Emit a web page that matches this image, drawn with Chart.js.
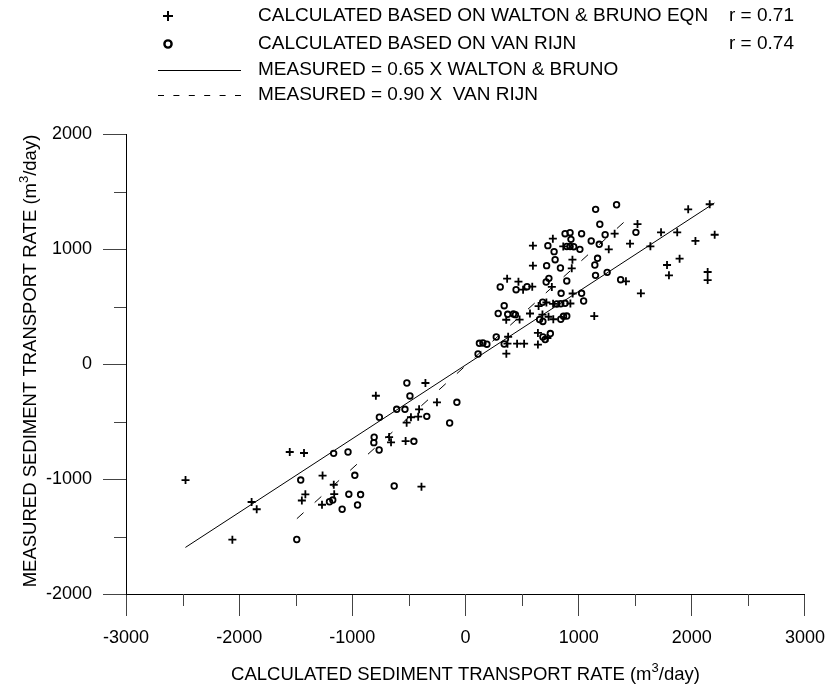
<!DOCTYPE html>
<html><head><meta charset="utf-8">
<script src="https://cdn.jsdelivr.net/npm/chart.js@4/dist/chart.umd.min.js"></script>
<style>html,body{margin:0;padding:0;background:#fff}#wrap{width:836px;height:687px}</style>
</head><body><div id="wrap"><canvas id="c" width="836" height="687"></canvas></div>
<script>
// ---- data ----
const xTickValues = [-3000, -2000, -1000, 0, 1000, 2000, 3000];
const yTickValues = [-2000, -1000, 0, 1000, 2000];
const xMinorTicks = [-2500, -1500, -500, 500, 1500, 2500];
const yMinorTicks = [-1500, -500, 500, 1500];

// Calculated based on Walton & Bruno eqn (x = calculated, y = measured)
const wbX = [2158,1968,1520,1318,1454,1728,1871,2202,2032,1634,1892,1781,1798,2140,2140,1550,
  772,596,864,1266,945,596,939,368,468,509,590,763,1418,947,715,646,774,927,570,680,734,360,478,776,1138,640,724,377,371,456,518,640,361,
  -354,-792,-252,-410,-482,-418,-520,-675,-658,-529,-389,-1553,-1427,-1263,-1164,-1415,-1446,-1160,-1268,-1890,-1845,-2060,-2474];
const wbY = [1389,1345,1217,1133,1046,1145,1145,1124,1070,1023,916,861,771,800,730,615,
  1090,1029,1022,997,907,855,832,742,716,646,672,670,719,613,535,504,523,526,439,430,411,385,386,389,417,270,226,237,177,177,177,169,90,
  -165,-276,-333,-394,-463,-458,-510,-635,-681,-670,-1067,-765,-774,-970,-1050,-1133,-1187,-1132,-1224,-1200,-1263,-1528,-1009];

// Calculated based on Van Rijn
const vrX = [1150,1335,1187,880,924,1026,1234,1506,932,1111,1182,728,
  895,924,956,1011,
  783,792,1167,1143,717,839,1149,1252,737,713,895,1371,
  307,447,544,845,1026,1044,682,342,807,842,880,
  289,373,424,441,655,684,842,866,895,
  684,704,750,272,123,154,189,342,111,
  -518,-491,-76,-608,-535,-342,-761,-140,-807,-810,-456,-763,
  -1165,-1038,-1456,-978,-1031,-927,-630,-1202,-1173,-1090,-954,-1491];
const vrY = [1345,1385,1215,1133,1142,1133,1124,1145,1084,1070,1041,1029,
  1022,1022,1020,997,
  977,907,919,861,855,835,771,797,745,713,722,733,
  670,646,672,615,615,548,537,507,522,524,528,
  439,432,435,429,387,370,389,415,417,
  235,213,265,235,180,183,172,174,87,
  -165,-278,-333,-394,-394,-455,-463,-513,-637,-684,-672,-748,
  -777,-765,-1009,-968,-1132,-1135,-1061,-1198,-1183,-1263,-1226,-1526];

// Fitted lines
const solidX = [-2475, 2200];
const solidY = [-1595, 1400];
const dashX = [-1490, 1430];
const dashY = [-1345, 1260];

const legendTexts = ['CALCULATED BASED ON WALTON & BRUNO EQN', 'CALCULATED BASED ON VAN RIJN',
  'MEASURED = 0.65 X WALTON & BRUNO', 'MEASURED = 0.90 X  VAN RIJN'];
const rTexts = ['r = 0.71', 'r = 0.74'];
const xTitleParts = ['CALCULATED SEDIMENT TRANSPORT RATE (m', '3', '/day)'];
const yTitleParts = ['MEASURED SEDIMENT TRANSPORT RATE (m', '3', '/day)'];

// ---- drawing ----
const FONT = '"Liberation Sans", Arial, Helvetica, sans-serif';
const pts = (xs, ys) => xs.map((x, i) => ({x: x, y: ys[i]}));

function drawSupText(ctx, parts, size) {
  ctx.font = size + 'px ' + FONT;
  const w1 = ctx.measureText(parts[0]).width;
  const w3 = ctx.measureText(parts[2]).width;
  const ss = Math.round(size * 0.7);
  ctx.font = ss + 'px ' + FONT;
  const w2 = ctx.measureText(parts[1]).width;
  const total = w1 + w2 + w3;
  let x = -total / 2;
  ctx.textAlign = 'left';
  ctx.textBaseline = 'alphabetic';
  ctx.font = size + 'px ' + FONT;
  ctx.fillText(parts[0], x, 0);
  x += w1;
  ctx.font = ss + 'px ' + FONT;
  ctx.fillText(parts[1], x, -size * 0.42);
  x += w2;
  ctx.font = size + 'px ' + FONT;
  ctx.fillText(parts[2], x, 0);
}

const overlay = {
  id: 'overlay',
  afterDraw(chart) {
    const ctx = chart.ctx;
    const xs = chart.scales.x, ys = chart.scales.y;
    const area = chart.chartArea;
    ctx.save();
    // minor ticks
    ctx.strokeStyle = '#444';
    ctx.lineWidth = 1;
    ctx.beginPath();
    xMinorTicks.forEach(v => {
      const p = Math.round(xs.getPixelForValue(v)) + 0.5;
      ctx.moveTo(p, area.bottom); ctx.lineTo(p, area.bottom + 12);
    });
    yMinorTicks.forEach(v => {
      const p = Math.round(ys.getPixelForValue(v)) + 0.5;
      ctx.moveTo(area.left - 12, p); ctx.lineTo(area.left, p);
    });
    ctx.stroke();

    // legend
    ctx.fillStyle = '#000';
    ctx.strokeStyle = '#000';
    ctx.font = '19px ' + FONT;
    ctx.textAlign = 'left';
    ctx.textBaseline = 'middle';
    const rowY = [16, 44, 70, 95];
    const textX = 258;
    legendTexts.forEach((t, i) => ctx.fillText(t, textX, rowY[i]));
    rTexts.forEach((t, i) => ctx.fillText(t, 729, rowY[i]));
    // plus marker
    ctx.lineWidth = 2;
    ctx.beginPath();
    ctx.moveTo(163, rowY[0]); ctx.lineTo(173, rowY[0]);
    ctx.moveTo(168, rowY[0] - 5); ctx.lineTo(168, rowY[0] + 5);
    ctx.stroke();
    // circle marker
    ctx.lineWidth = 2.4;
    ctx.beginPath();
    ctx.arc(168, rowY[1], 3.6, 0, Math.PI * 2);
    ctx.stroke();
    // solid line
    ctx.lineWidth = 1;
    ctx.beginPath();
    ctx.moveTo(158, rowY[2] + 0.5); ctx.lineTo(241, rowY[2] + 0.5);
    ctx.stroke();
    // dashed line
    ctx.setLineDash([6, 9.4]);
    ctx.beginPath();
    ctx.moveTo(158, rowY[3] + 0.5); ctx.lineTo(241, rowY[3] + 0.5);
    ctx.stroke();
    ctx.setLineDash([]);

    // axis titles
    ctx.fillStyle = '#000';
    ctx.save();
    ctx.translate((area.left + area.right) / 2, 680);
    drawSupText(ctx, xTitleParts, 18.5);
    ctx.restore();
    ctx.save();
    ctx.translate(36, (area.top + area.bottom) / 2 - 3);
    ctx.rotate(-Math.PI / 2);
    drawSupText(ctx, yTitleParts, 18.5);
    ctx.restore();
    ctx.restore();
  }
};

const tickFont = {family: FONT, size: 18};
new Chart(document.getElementById('c').getContext('2d'), {
  type: 'scatter',
  data: {
    datasets: [
      {label: 'Walton & Bruno', data: pts(wbX, wbY), pointStyle: 'cross', pointRadius: 4,
        pointBorderWidth: 1.8, pointBorderColor: '#000', pointBackgroundColor: '#000'},
      {label: 'Van Rijn', data: pts(vrX, vrY), pointStyle: 'circle', pointRadius: 2.8,
        pointBorderWidth: 1.8, pointBorderColor: '#000', pointBackgroundColor: 'rgba(0,0,0,0)'},
      {label: '0.65 x W&B', data: pts(solidX, solidY), showLine: true, borderColor: '#000',
        borderWidth: 1, pointRadius: 0},
      {label: '0.90 x VR', data: pts(dashX, dashY), showLine: true, borderColor: '#000',
        borderWidth: 1, borderDash: [9, 15], pointRadius: 0}
    ]
  },
  options: {
    responsive: false,
    animation: false,
    devicePixelRatio: 1,
    layout: {padding: {top: 134, right: 26, left: 0, bottom: 0}},
    plugins: {legend: {display: false}, tooltip: {enabled: false}},
    scales: {
      x: {
        type: 'linear', min: -3000, max: 3000,
        afterBuildTicks: s => { s.ticks = xTickValues.map(v => ({value: v})); },
        afterFit: s => { s.height = 93; },
        grid: {drawOnChartArea: false, tickLength: 22, color: '#444', lineWidth: 1},
        border: {display: true, color: '#000', width: 1},
        ticks: {color: '#000', font: tickFont, padding: 11, maxRotation: 0, autoSkip: false,
          callback: v => String(v)}
      },
      y: {
        type: 'linear', min: -2000, max: 2000,
        afterBuildTicks: s => { s.ticks = yTickValues.map(v => ({value: v})); },
        afterFit: s => { s.width = 126; },
        grid: {drawOnChartArea: false, tickLength: 23, color: '#444', lineWidth: 1},
        border: {display: true, color: '#000', width: 1},
        ticks: {color: '#000', font: tickFont, padding: 11, autoSkip: false,
          callback: v => String(v)}
      }
    }
  },
  plugins: [overlay]
});
</script>
</body></html>
